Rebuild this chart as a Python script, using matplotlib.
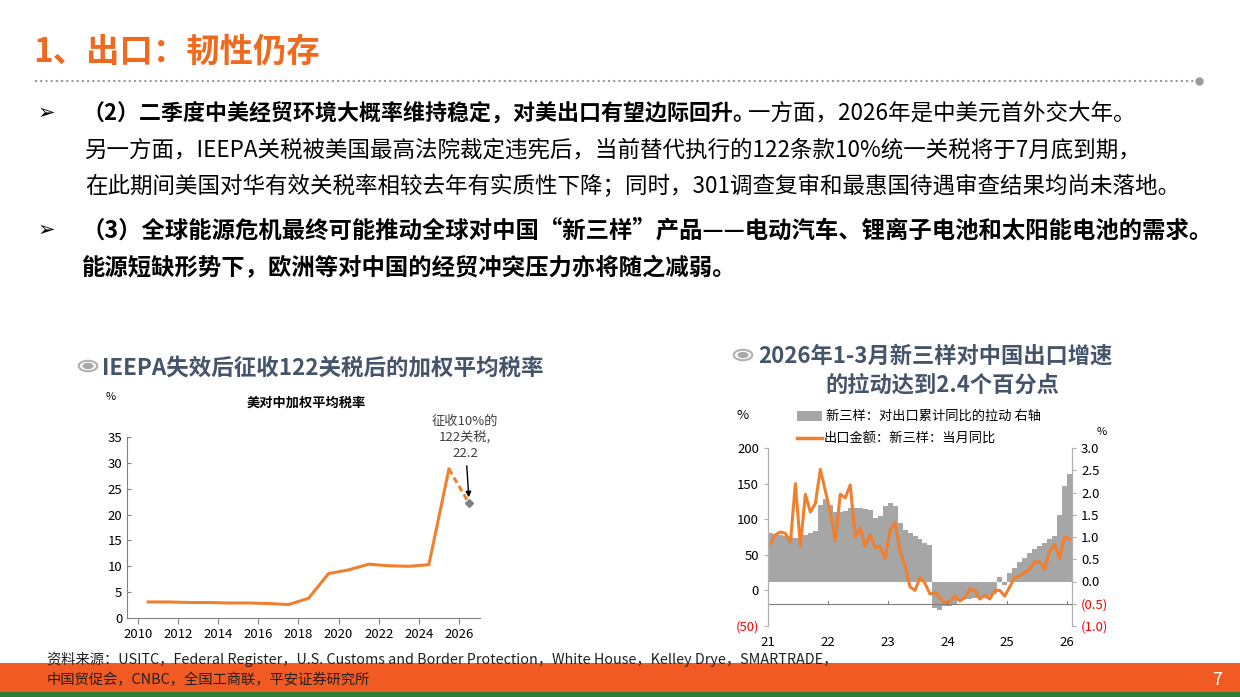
import matplotlib
matplotlib.use("Agg")
import matplotlib.pyplot as plt
import numpy as np
from matplotlib.patches import Rectangle, Circle
from matplotlib.lines import Line2D

plt.rcParams['font.family'] = ['Noto Sans CJK SC', 'DejaVu Sans']

W, H = 1240, 697
# ---------------- data ----------------
tariff_years = [2010, 2011, 2012, 2013, 2014, 2015, 2016, 2017, 2018, 2019,
                2020, 2021, 2022, 2023, 2024, 2025, 2026]
tariff_rate = [3.1, 3.1, 3.0, 3.0, 2.9, 2.9, 2.8, 2.6, 3.8, 8.6,
               9.3, 10.4, 10.1, 10.0, 10.3, 28.8, 22.2]
tariff_xticks = [2010, 2012, 2014, 2016, 2018, 2020, 2022, 2024, 2026]

# monthly Jan-2021 .. Jan-2026 (right axis, %)
pull_contrib = [1.08, 1.06, 1.05, 1.03, 1.00, 0.97, 1.00, 1.05, 1.08, 1.13, 1.72, 1.85,
                1.72, 1.56, 1.56, 1.59, 1.66, 1.66, 1.66, 1.64, 1.61, 1.43, 1.48, 1.69,
                1.77, 1.69, 1.32, 1.16, 1.08, 1.03, 0.95, 0.87, 0.82, -0.60, -0.63, -0.55,
                -0.55, -0.52, -0.44, -0.39, -0.39, -0.36, -0.36, -0.36, -0.33, -0.28, 0.09, -0.07,
                0.20, 0.31, 0.44, 0.52, 0.63, 0.73, 0.79, 0.86, 0.95, 1.02, 1.50, 2.15,
                2.41]
# monthly Jan-2021 .. Jan-2026 (left axis, %)
export_yoy = [65, 78, 82, 80, 68, 150, 62, 135, 110, 122, 170, 140,
              110, 70, 135, 130, 148, 75, 88, 62, 78, 60, 62, 45,
              85, 95, 55, 35, 5, 0, 18, 10, -5, -3, -10, -18,
              -15, -8, -15, -10, 2, 0, -12, -7, -12, 0, 0, -8,
              5, 18, 20, 25, 30, 40, 40, 30, 55, 65, 45, 75, 72]
month_labels = ['21', '22', '23', '24', '25', '26']

ORANGE = '#F0802E'
SLATE = '#44546A'

fig = plt.figure(figsize=(12.4, 6.97), dpi=100)

def fx(x): return x / W
def fy(y): return 1 - y / H

# ---------------- header ----------------
fig.text(fx(33), fy(52), '1、出口：韧性仍存', color='#EE6A1F', fontsize=24,
         fontweight='bold', va='center', ha='left')
fig.add_artist(Line2D([fx(35), fx(1195)], [fy(81), fy(81)], color='#9A9A9A',
                      lw=1.5, linestyle=(0, (1, 1.5))))
fig.add_artist(Line2D([fx(1199)], [fy(81)], marker='o', color='#9A9A9A', ms=5))

fsn = 16.2
fsb = 16.8
fig.text(fx(38), fy(113), '➢', fontsize=15, va='center', family=['DejaVu Sans'])
t1 = fig.text(fx(82), fy(113), '（2）二季度中美经贸环境大概率维持稳定，对美出口有望边际回升。',
              fontsize=15.8, fontweight='bold', va='center')
fig.canvas.draw()
x_end = t1.get_window_extent().x1
fig.text(x_end / W - 0.006, fy(113), '一方面，2026年是中美元首外交大年。', fontsize=fsn, va='center')
fig.text(fx(85), fy(150), '另一方面，IEEPA关税被美国最高法院裁定违宪后，当前替代执行的122条款10%统一关税将于7月底到期，',
         fontsize=fsn, va='center')
fig.text(fx(85), fy(186), '在此期间美国对华有效关税率相较去年有实质性下降；同时，301调查复审和最惠国待遇审查结果均尚未落地。',
         fontsize=fsn, va='center')
fig.text(fx(38), fy(230), '➢', fontsize=15, va='center', family=['DejaVu Sans'])
fig.text(fx(82), fy(230), '（3）全球能源危机最终可能推动全球对中国“新三样”产品——电动汽车、锂离子电池和太阳能电池的需求。',
         fontsize=fsb, fontweight='bold', va='center')
fig.text(fx(82), fy(268), '能源短缺形势下，欧洲等对中国的经贸冲突压力亦将随之减弱。',
         fontsize=fsb, fontweight='bold', va='center')

# chart titles
for cx, cy in [(88, 366), (743, 355)]:
    fig.add_artist(Circle((fx(cx), fy(cy)), 0.0075, transform=fig.transFigure,
                          facecolor='white', edgecolor='#B0B0B0', lw=1.5))
    fig.add_artist(Circle((fx(cx), fy(cy)), 0.0045, transform=fig.transFigure,
                          facecolor='#A8A8A8', edgecolor='none'))
fig.text(fx(102), fy(368), 'IEEPA失效后征收122关税后的加权平均税率', fontsize=16.2,
         fontweight='bold', color=SLATE, va='center')
fig.text(fx(758), fy(356), '2026年1-3月新三样对中国出口增速', fontsize=16,
         fontweight='bold', color=SLATE, va='center')
fig.text(fx(942), fy(385), '的拉动达到2.4个百分点', fontsize=16,
         fontweight='bold', color=SLATE, va='center', ha='center')

# ---------------- left chart ----------------
ax1 = fig.add_axes([fx(127), fy(618), fx(480) - fx(127), fy(437) - fy(618)])
xs = np.array(tariff_years) + 0.5
ax1.plot(xs[:-1], tariff_rate[:-1], color=ORANGE, lw=2.2)
ax1.plot(xs[-2:], tariff_rate[-2:], color=ORANGE, lw=2.2, linestyle=(0, (2, 1.2)))
ax1.plot(xs[-1], tariff_rate[-1], marker='D', color='#808080', ms=4.5)
ax1.set_xlim(2009.45, 2027.05)
ax1.set_ylim(0, 35)
ax1.set_yticks(range(0, 36, 5))
ax1.set_xticks(tariff_xticks)
for s in ['top', 'right']:
    ax1.spines[s].set_visible(False)
for s in ['left', 'bottom']:
    ax1.spines[s].set_color('#808080')
ax1.tick_params(labelsize=9.5, color='#808080', direction='in', length=3)
ax1.tick_params(axis='x', direction='out', length=4)
ax1.annotate('征收10%的\n122关税,\n22.2', xy=(xs[-1], tariff_rate[-1] + 0.6),
             xytext=(2026.3, 30.5), ha='center', va='bottom', fontsize=9.5,
             color='#404040', linespacing=1.3,
             arrowprops=dict(arrowstyle='-|>', color='black', lw=1, mutation_scale=8))
fig.text(fx(106), fy(397), '%', fontsize=8, va='center')
fig.text(fx(306), fy(403), '美对中加权平均税率', fontsize=9.5, fontweight='bold',
         ha='center', va='center')

# ---------------- right chart ----------------
ax2 = fig.add_axes([fx(768), fy(626), fx(1072) - fx(768), fy(448) - fy(626)])
ax3 = ax2.twinx()
n = len(pull_contrib)
mx = np.arange(n)
ax3.bar(mx, pull_contrib, width=1.0, align='edge', color='#A6A6A6', edgecolor='none',
        label='新三样：对出口累计同比的拉动 右轴')
ax2.set_zorder(ax3.get_zorder() + 1)
ax2.patch.set_visible(False)
ax2.plot(np.arange(len(export_yoy)) + 0.5, export_yoy, color=ORANGE, lw=2.2,
         label='出口金额：新三样：当月同比')
ax2.set_ylim(-50, 200)
ax3.set_ylim(-1.0, 3.0)
ax2.set_xlim(0, 61)
ax2.set_yticks([-50, 0, 50, 100, 150, 200])
ax2.set_yticklabels(['(50)', '0', '50', '100', '150', '200'])
ax3.set_yticks([-1.0, -0.5, 0, 0.5, 1.0, 1.5, 2.0, 2.5, 3.0])
ax3.set_yticklabels(['(1.0)', '(0.5)', '0.0', '0.5', '1.0', '1.5', '2.0', '2.5', '3.0'])
for lab in ax2.get_yticklabels()[:1]:
    lab.set_color('red')
for lab in ax3.get_yticklabels()[:2]:
    lab.set_color('red')
ax2.set_xticks(np.arange(0, 61, 12))
ax2.set_xticklabels(month_labels)
for a in (ax2, ax3):
    for s in ['top', 'bottom']:
        a.spines[s].set_visible(False)
    for s in ['left', 'right']:
        a.spines[s].set_color('#B0B0B0')
    a.tick_params(labelsize=9.5, length=3, color='#B0B0B0')
ax2.tick_params(axis='x', length=0, pad=7)
ax2.axhline(-18.75, color='#808080', lw=0.8)
for t in np.arange(12, 61, 12):
    ax2.plot([t, t], [-18.75, -15], color='#808080', lw=0.8)
fig.text(fx(743), fy(415), '%', fontsize=9.5, va='center', ha='center')
fig.text(fx(1102), fy(432), '%', fontsize=8, va='center', ha='center')
# legend
fig.add_artist(Rectangle((fx(797), fy(421)), fx(822) - fx(797), fy(411) - fy(421),
                         transform=fig.transFigure, facecolor='#A6A6A6', edgecolor='none'))
fig.text(fx(826), fy(416), '新三样：对出口累计同比的拉动 右轴', fontsize=9.5, va='center')
fig.add_artist(Line2D([fx(797), fx(822)], [fy(438), fy(438)], color=ORANGE, lw=2.5))
fig.text(fx(824), fy(438), '出口金额：新三样：当月同比', fontsize=9.5, va='center')

# ---------------- footer ----------------
fig.add_artist(Rectangle((0, fy(692)), 1, fy(663) - fy(692), transform=fig.transFigure,
                         facecolor='#F15A22', edgecolor='none'))
fig.add_artist(Rectangle((0, 0), 1, fy(692), transform=fig.transFigure,
                         facecolor='#2E7D32', edgecolor='none'))
fig.text(fx(47), fy(659), '资料来源：USITC，Federal Register，U.S. Customs and Border Protection，White House，Kelley Drye，SMARTRADE，',
         fontsize=10.3, va='center', color='#202020')
fig.text(fx(47), fy(680), '中国贸促会，CNBC，全国工商联，平安证券研究所', fontsize=10.3,
         va='center', color='#202020')
fig.text(fx(1217), fy(680), '7', fontsize=13, color='white', va='center', ha='center')

fig.savefig('out.png', dpi=100)
